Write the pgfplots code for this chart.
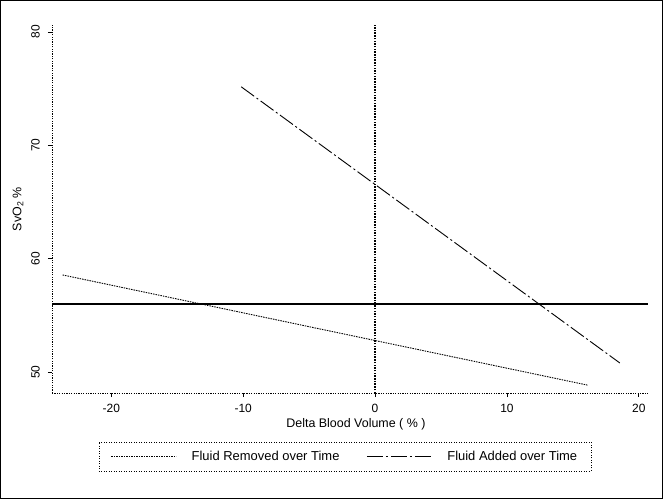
\documentclass[border=0pt]{standalone}
\usepackage{fontspec}
\setmainfont{Liberation Sans}
\usepackage{pgfplots}
\pgfplotsset{compat=1.18}
\begin{document}
\begin{tikzpicture}
\begin{axis}[
  scale only axis, width=596bp, height=368bp,
  xmin=-24.5, xmax=20.7, ymin=48.15, ymax=80.6,
  axis x line*=bottom, axis y line*=left,
  axis line style={line width=0.8bp, dash pattern=on 1.2bp off 1.2bp},
  xtick={-20,-10,0,10,20}, ytick={50,60,70,80},
  tick align=outside, major tick length=4bp,
  tick style={black, line width=0.6bp},
  /pgf/number format/assume math mode=true,
  ticklabel style={font=\fontsize{12}{14}\selectfont},
  yticklabel style={rotate=90, anchor=south, inner ysep=8bp},
  xticklabel style={yshift=-4bp},
  label style={font=\fontsize{12.5}{15}\selectfont},
  xlabel={Delta Blood Volume ( \% )},
  xlabel style={at={(axis description cs:0.51,-0.086)}, anchor=center},
  ylabel={SvO\textsubscript{2} \%},
  ylabel style={at={(axis description cs:-0.057,0.5)}, anchor=center},
  legend columns=2,
  legend style={at={(axis description cs:0.4916,-0.1726)}, anchor=center,
    draw=black, line width=0.6bp, dash pattern=on 1bp off 1.5bp,
    font=\fontsize{13}{15}\selectfont, inner xsep=12bp, inner ysep=7bp,
    /tikz/every odd column/.append style={column sep=13bp},
    /tikz/every even column/.append style={column sep=25bp}},
  legend image code/.code={\draw[#1] (0bp,0bp) -- (65bp,0bp);},
]
\addplot[black, line width=0.9bp, dash pattern=on 1.5bp off 1bp] coordinates {(-23.7,58.56) (16.1,48.85)};
\addlegendentry{Fluid Removed over Time}
\addplot[black, line width=0.9bp, dash pattern=on 16bp off 3bp on 2bp off 3bp] coordinates {(-10.15,75.15) (18.56,50.8)};
\addlegendentry{Fluid Added over Time}
\addplot[black, line width=1.6bp, forget plot] coordinates {(-24.5,56.0) (20.7,56.0)};
\addplot[black, line width=1.8bp, dash pattern=on 1.5bp off 1.2bp, forget plot] coordinates {(0,48.15) (0,80.6)};
\end{axis}
\draw[line width=1.5bp] (-51.25bp,-105.25bp) rectangle (610.25bp,392.25bp);
\pgfresetboundingbox
\useasboundingbox (-52bp,-106bp) rectangle (611bp,393bp);
\end{tikzpicture}
\end{document}
